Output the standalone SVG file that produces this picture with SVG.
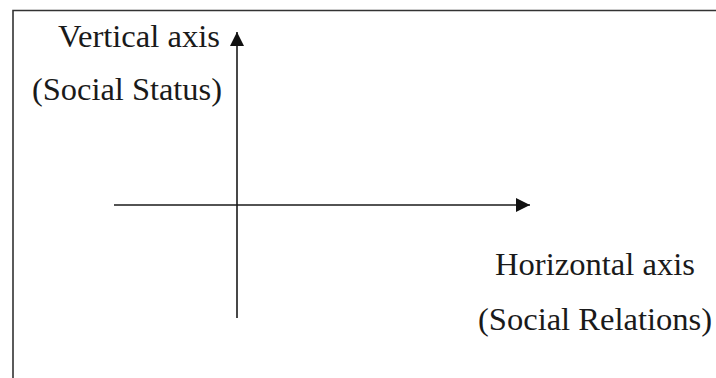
<svg xmlns="http://www.w3.org/2000/svg" width="716" height="378" viewBox="0 0 716 378">
<style>
.t{font-family:"Liberation Serif","Times New Roman",serif;font-size:31.5px;fill:#1a1a1a}
.ax{stroke:#1a1a1a;stroke-width:1.6;fill:none}
</style>
<defs>
<marker id="ah" viewBox="0 0 14 14" refX="14" refY="7" markerWidth="14" markerHeight="14" markerUnits="userSpaceOnUse" orient="auto">
<path d="M0,0 L14,7 L0,14 Z" fill="#111"/>
</marker>
</defs>
<rect width="716" height="378" fill="#fff"/>
<path d="M13,378 V10.5 H716" stroke="#333" stroke-width="1.6" fill="none"/>
<g id="connectors">
<line class="ax" x1="237" y1="318" x2="237" y2="32" marker-end="url(#ah)"/>
<line class="ax" x1="114" y1="205" x2="530" y2="205" marker-end="url(#ah)"/>
</g>
<g id="vertical-label">
<text class="t" x="58" y="47" textLength="162" lengthAdjust="spacingAndGlyphs">Vertical axis</text>
<text class="t" x="32" y="100" textLength="190" lengthAdjust="spacingAndGlyphs">(Social Status)</text>
</g>
<g id="horizontal-label">
<text class="t" x="495" y="275" textLength="200" lengthAdjust="spacingAndGlyphs">Horizontal axis</text>
<text class="t" x="478" y="330" textLength="234" lengthAdjust="spacingAndGlyphs">(Social Relations)</text>
</g>
</svg>
